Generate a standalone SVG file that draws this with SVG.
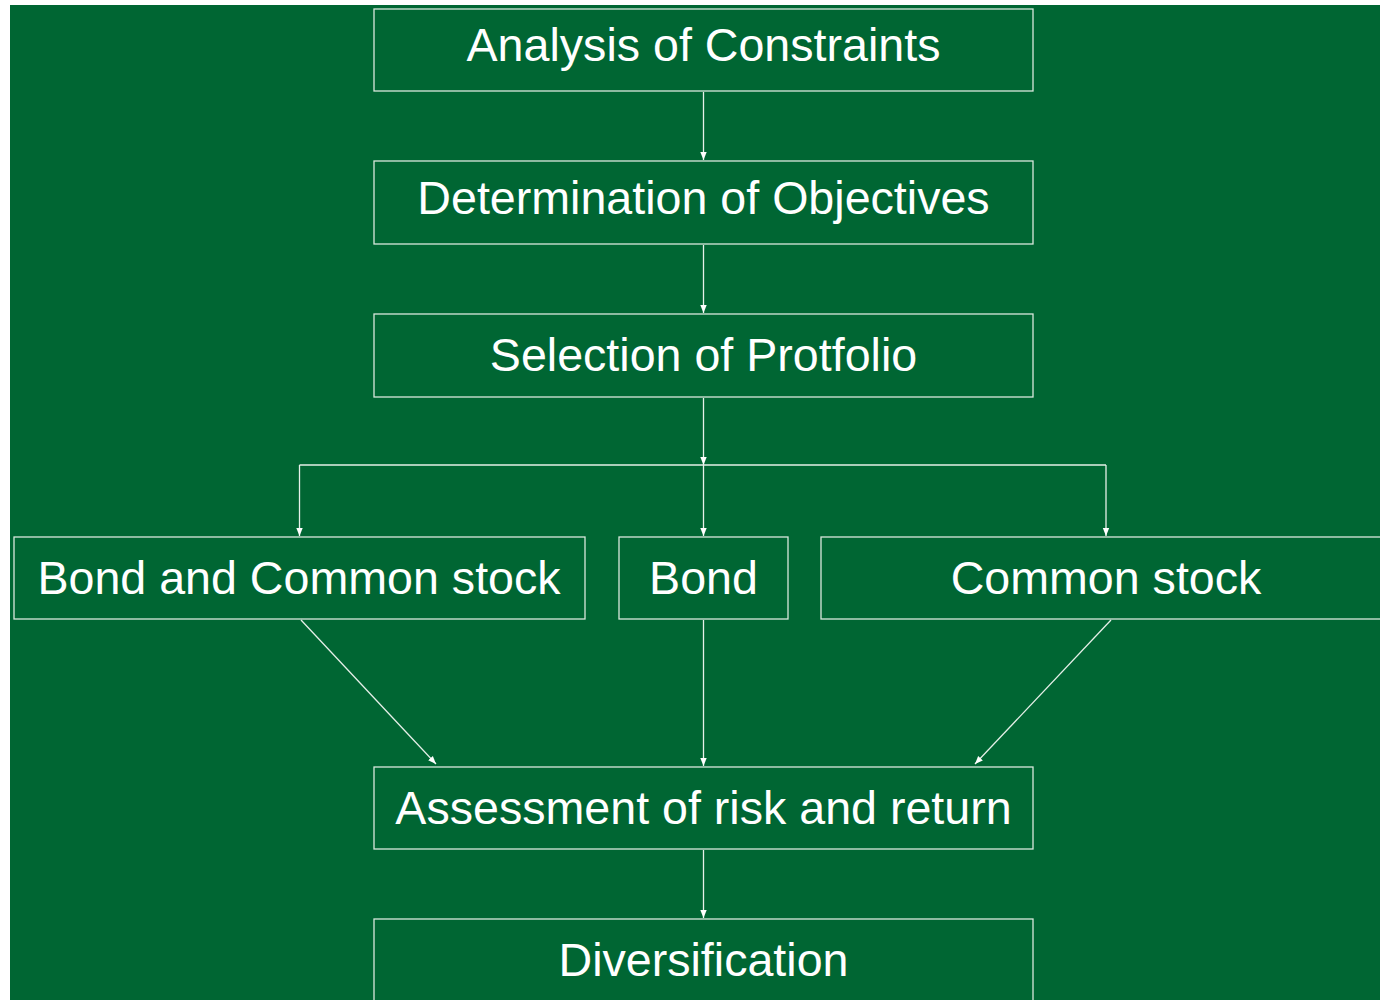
<svg xmlns="http://www.w3.org/2000/svg" width="1380" height="1000" viewBox="0 0 1380 1000">
<defs>
<style>
.box{fill:none;stroke:#d9e8dd;stroke-width:1.3}
.lbl{font-family:"Liberation Sans",Arial,sans-serif;font-size:46.6px;fill:#ffffff;text-anchor:middle}
.con{fill:none;stroke:#e6f0e9;stroke-width:1.3}
</style>
<marker id="ah" viewBox="0 0 10 10" refX="10" refY="5" markerWidth="8" markerHeight="8" markerUnits="userSpaceOnUse" orient="auto">
<path d="M0,1 L10,5 L0,9 Z" fill="#ffffff"/>
</marker>
</defs>
<rect x="0" y="0" width="1380" height="1000" fill="#ffffff"/>
<rect x="10" y="5" width="1370" height="995" fill="#006633"/>
<g id="connectors">
<line class="con" x1="703.5" y1="92" x2="703.5" y2="160" marker-end="url(#ah)"/>
<line class="con" x1="703.5" y1="245" x2="703.5" y2="313" marker-end="url(#ah)"/>
<line class="con" x1="703.5" y1="398" x2="703.5" y2="465" marker-end="url(#ah)"/>
<polyline class="con" points="299.5,465 1106,465"/>
<line class="con" x1="299.5" y1="465" x2="299.5" y2="536" marker-end="url(#ah)"/>
<line class="con" x1="703.5" y1="465" x2="703.5" y2="536" marker-end="url(#ah)"/>
<line class="con" x1="1106" y1="465" x2="1106" y2="536" marker-end="url(#ah)"/>
<line class="con" x1="301" y1="620" x2="436" y2="764" marker-end="url(#ah)"/>
<line class="con" x1="703.5" y1="620" x2="703.5" y2="766" marker-end="url(#ah)"/>
<line class="con" x1="1111" y1="620" x2="975" y2="764" marker-end="url(#ah)"/>
<line class="con" x1="703.5" y1="850" x2="703.5" y2="918" marker-end="url(#ah)"/>
</g>
<g id="analysis">
<rect class="box" x="374" y="9" width="659" height="82"/>
<text class="lbl" x="703.5" y="61">Analysis of Constraints</text>
</g>
<g id="determination">
<rect class="box" x="374" y="161" width="659" height="83"/>
<text class="lbl" x="703.5" y="214">Determination of Objectives</text>
</g>
<g id="selection">
<rect class="box" x="374" y="314" width="659" height="83"/>
<text class="lbl" x="703.5" y="371">Selection of Protfolio</text>
</g>
<g id="bond-common">
<rect class="box" x="14" y="537" width="571" height="82"/>
<text class="lbl" x="299" y="594">Bond and Common stock</text>
</g>
<g id="bond">
<rect class="box" x="619" y="537" width="169" height="82"/>
<text class="lbl" x="703.5" y="594">Bond</text>
</g>
<g id="common">
<rect class="box" x="821" y="537" width="570" height="82"/>
<text class="lbl" x="1106" y="594">Common stock</text>
</g>
<g id="assessment">
<rect class="box" x="374" y="767" width="659" height="82"/>
<text class="lbl" x="703.5" y="824">Assessment of risk and return</text>
</g>
<g id="diversification">
<rect class="box" x="374" y="919" width="659" height="90"/>
<text class="lbl" x="703.5" y="976">Diversification</text>
</g>
</svg>
